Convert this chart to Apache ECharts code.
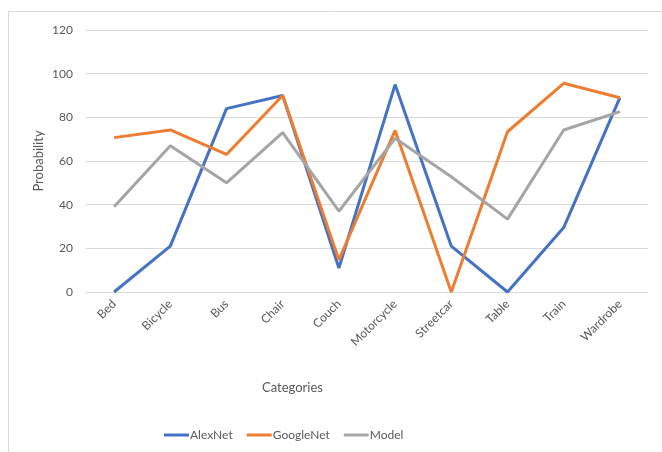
<!DOCTYPE html>
<html>
<head>
<meta charset="utf-8">
<script src="https://cdn.jsdelivr.net/npm/echarts@6/dist/echarts.min.js"></script>
<style>html,body{margin:0;padding:0;background:#fff;}#chart{width:662px;height:452px;}</style>
</head>
<body>
<div id="chart"></div>
<script>
const categories = ['Bed','Bicycle','Bus','Chair','Couch','Motorcycle','Streetcar','Table','Train','Wardrobe'];
const alexNet   = [0, 21, 84, 90, 11, 95, 21, 0, 29.5, 89];
const googleNet = [70.7, 74.2, 63, 90, 14.7, 74, 0, 73.4, 95.6, 89];
const model     = [39, 67, 50, 73, 37, 70.4, 52.8, 33.4, 74.2, 82.6];
const yTicks = [0, 20, 40, 60, 80, 100, 120];

const font = 'Lato, "Open Sans", sans-serif';
const chart = echarts.init(document.getElementById('chart'), null, {renderer: 'canvas'});
chart.setOption({
  animation: false,
  backgroundColor: '#fff',
  color: ['#4472C4', '#ED7D31', '#A5A5A5'],
  textStyle: {fontFamily: font},
  grid: {left: 86, right: 14, top: 30, bottom: 160, containLabel: false},
  legend: {
    left: 159, top: 424,
    icon: 'rect', itemWidth: 25, itemHeight: 3, itemGap: 14,
    textStyle: {color: '#595959', fontSize: 12, fontFamily: font, padding: [0, 0, 0, -4]},
    data: ['AlexNet', 'GoogleNet', 'Model']
  },
  xAxis: {
    type: 'category',
    data: categories,
    boundaryGap: true,
    axisLine: {show: true, lineStyle: {color: '#d9d9d9', width: 1}},
    axisTick: {show: false},
    axisLabel: {rotate: 45, margin: 10, color: '#595959', fontSize: 12, fontFamily: font, interval: 0}
  },
  yAxis: {
    type: 'value',
    min: yTicks[0], max: yTicks[yTicks.length - 1], interval: 20,
    name: 'Probability',
    nameLocation: 'middle',
    nameGap: 41,
    nameMoveOverlap: false,
    nameRotate: 90,
    nameTextStyle: {color: '#595959', fontSize: 13, fontFamily: font},
    axisLine: {show: false},
    axisTick: {show: false},
    splitLine: {lineStyle: {color: '#d9d9d9', width: 1}},
    axisLabel: {margin: 13, color: '#595959', fontSize: 12, fontFamily: font}
  },
  graphic: [
    {type: 'rect', silent: true, z: -1, shape: {x: 8.5, y: 11.5, width: 700, height: 500},
     style: {fill: 'none', stroke: '#d9d9d9', lineWidth: 1}},
    {type: 'text', left: 262, top: 381,
     style: {text: 'Categories', fill: '#595959', font: '13px ' + font}}
  ],
  series: [
    {name: 'AlexNet', type: 'line', data: alexNet, symbol: 'none', lineStyle: {width: 3}},
    {name: 'GoogleNet', type: 'line', data: googleNet, symbol: 'none', lineStyle: {width: 3}},
    {name: 'Model', type: 'line', data: model, symbol: 'none', lineStyle: {width: 3}}
  ]
});
</script>
</body>
</html>
